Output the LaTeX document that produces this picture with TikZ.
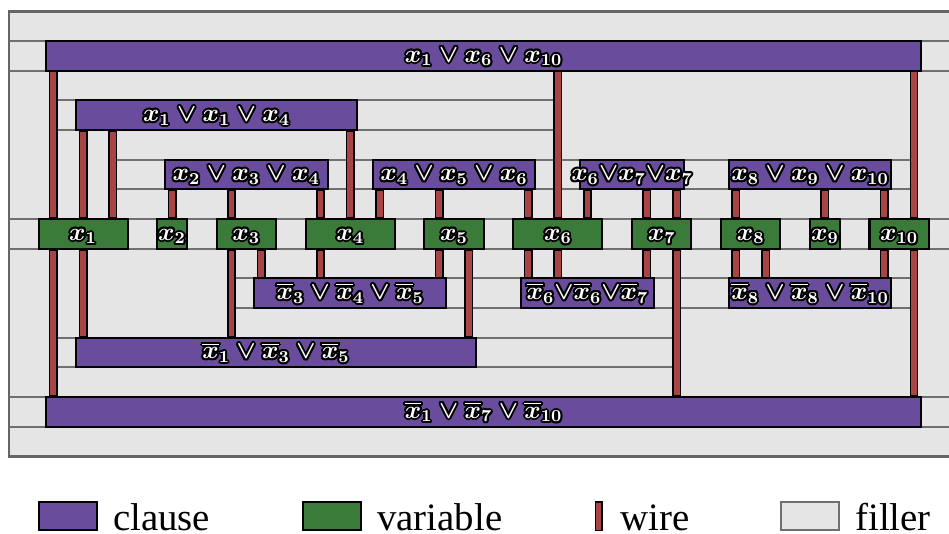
\documentclass[tikz,border=0pt]{standalone}
\usepackage{fontspec}
\newfontfamily\legendfont{Liberation Serif}
\usepackage{amsmath}
\usepackage{contour}
\contourlength{0.95pt}

\definecolor{clausecol}{RGB}{106,76,156}
\definecolor{varcol}{RGB}{58,123,58}
\definecolor{wirecol}{RGB}{169,68,68}
\definecolor{fillcol}{RGB}{229,229,229}
\definecolor{linecol}{RGB}{112,112,112}

\newcommand{\clab}[1]{\makebox[0pt]{\raisebox{-3pt}[0pt][0pt]{\contour{black}{$#1$}}}}

\tikzset{
  box/.style={draw=black, line width=1pt, inner sep=0pt, minimum height=0.5cm,
    text=white, font=\boldmath\fontsize{11.5}{13}\selectfont},
  clausebox/.style={box, fill=clausecol},
  varbox/.style={box, fill=varcol},
  wire/.style={draw=black, fill=wirecol, line width=0.75pt},
  fillline/.style={draw=linecol, line width=1pt},
  outerframe/.style={draw=linecol!90!black, line width=1.2pt},
  legendtext/.style={font=\legendfont\fontsize{18.6}{20}\selectfont, anchor=base west, inner sep=0pt},
  legendbox/.style={line width=1pt, inner sep=0pt, minimum width=0.985cm, minimum height=0.475cm}
}

\begin{document}
\begin{tikzpicture}[x=0.5cm, y=-0.5cm]
  \useasboundingbox (-1.3,-0.38) rectangle (30.68,17.61);
  \clip (-1.3,-0.38) rectangle (30.68,17.61);

  \fill[fillcol] (-1,0) rectangle (31,15);
  \foreach \r in {1,...,14}
    \draw[fillline] (-1,\r) -- (31,\r);
  \foreach \xa/\xb/\ya/\yb in {-0.96/0.5/2/7, 0.5/1.5/4/7, 1.5/2.5/4/7, 17.5/29.5/2/5,
      29.5/31/2/7, -0.96/0.5/8/13, 0.5/1.5/8/11, 1.5/6.5/8/11, 21.5/29.5/10/13, 29.5/31/8/13}
    \fill[fillcol] (\xa,\ya+0.06) rectangle (\xb,\yb-0.06);
  \draw[outerframe] (31,0) -- (-1,0) -- (-1,15) -- (31,15);

  \node[varbox, minimum width=1.5cm] (v1) at (1.5,7.5) {\clab{x_1}};
  \node[varbox, minimum width=0.5cm] (v2) at (4.5,7.5) {\clab{x_2}};
  \node[varbox, minimum width=1cm] (v3) at (7,7.5) {\clab{x_3}};
  \node[varbox, minimum width=1.5cm] (v4) at (10.5,7.5) {\clab{x_4}};
  \node[varbox, minimum width=1cm] (v5) at (14,7.5) {\clab{x_5}};
  \node[varbox, minimum width=1.5cm] (v6) at (17.5,7.5) {\clab{x_6}};
  \node[varbox, minimum width=1cm] (v7) at (21,7.5) {\clab{x_7}};
  \node[varbox, minimum width=1cm] (v8) at (24,7.5) {\clab{x_8}};
  \node[varbox, minimum width=0.5cm] (v9) at (26.5,7.5) {\clab{x_9}};
  \node[varbox, minimum width=1cm] (v10) at (29,7.5) {\clab{x_{10}}};

  \node[clausebox, minimum width=14.74cm] (c1) at (15,1.5) {\clab{x_1 \vee x_6 \vee x_{10}}};
  \node[clausebox, minimum width=4.74cm] (c2) at (6,3.5) {\clab{x_1 \vee x_1 \vee x_4}};
  \node[clausebox, minimum width=2.74cm] (c3) at (7,5.5) {\clab{x_2 \vee x_3 \vee x_4}};
  \node[clausebox, minimum width=2.74cm] (c4) at (14,5.5) {\clab{x_4 \vee x_5 \vee x_6}};
  \node[clausebox, minimum width=1.74cm] (c5) at (20,5.5) {\clab{x_6{\vee}x_7{\vee}x_7}};
  \node[clausebox, minimum width=2.74cm] (c6) at (26,5.5) {\clab{x_8 \vee x_9 \vee x_{10}}};
  \node[clausebox, minimum width=3.24cm] (n1) at (10.5,9.5) {\clab{\overline{x}_3 \vee \overline{x}_4 \vee \overline{x}_5}};
  \node[clausebox, minimum width=2.24cm] (n2) at (18.5,9.5) {\clab{\overline{x}_6{\vee}\overline{x}_6{\vee}\overline{x}_7}};
  \node[clausebox, minimum width=2.74cm] (n3) at (26,9.5) {\clab{\overline{x}_8 \vee \overline{x}_8 \vee \overline{x}_{10}}};
  \node[clausebox, minimum width=6.74cm] (n4) at (8,11.5) {\clab{\overline{x}_1 \vee \overline{x}_3 \vee \overline{x}_5}};
  \node[clausebox, minimum width=14.74cm] (n5) at (15,13.5) {\clab{\overline{x}_1 \vee \overline{x}_7 \vee \overline{x}_{10}}};

  \foreach \c/\v/\x in {c1/v1/0.5, c1/v6/17.5, c1/v10/29.5, c2/v1/1.5, c2/v1/2.5, c2/v4/10.5,
      c3/v2/4.5, c3/v3/6.5, c3/v4/9.5, c4/v4/11.5, c4/v5/13.5, c4/v6/16.5,
      c5/v6/18.5, c5/v7/20.5, c5/v7/21.5, c6/v8/23.5, c6/v9/26.5, c6/v10/28.5}
    \draw[wire] (\x-0.125,0 |- \c.south) rectangle (\x+0.125,0 |- \v.north);
  \foreach \n/\v/\x in {n1/v3/7.5, n1/v4/9.5, n1/v5/13.5, n2/v6/16.5, n2/v6/17.5, n2/v7/20.5,
      n3/v8/23.5, n3/v8/24.5, n3/v10/28.5, n4/v1/1.5, n4/v3/6.5, n4/v5/14.5,
      n5/v1/0.5, n5/v7/21.5, n5/v10/29.5}
    \draw[wire] (\x-0.125,0 |- \v.south) rectangle (\x+0.125,0 |- \n.north);

  \node[legendbox, draw=black, fill=clausecol] (lgclause) at (0.985,17.02) {};
  \node[legendtext] (lgclausetext) at (2.5,17.49) {clause};
  \node[legendbox, draw=black, fill=varcol] (lgvar) at (9.89,17.02) {};
  \node[legendtext] (lgvartext) at (11.4,17.49) {variable};
  \node[legendbox, draw=black, fill=wirecol, line width=0.75pt, minimum width=0.11cm] (lgwire) at (18.88,17.02) {};
  \node[legendtext] (lgwiretext) at (19.59,17.49) {wire};
  \node[legendbox, draw=linecol, fill=fillcol] (lgfiller) at (25.99,17.02) {};
  \node[legendtext] (lgfillertext) at (27.51,17.49) {filler};
\end{tikzpicture}
\end{document}
